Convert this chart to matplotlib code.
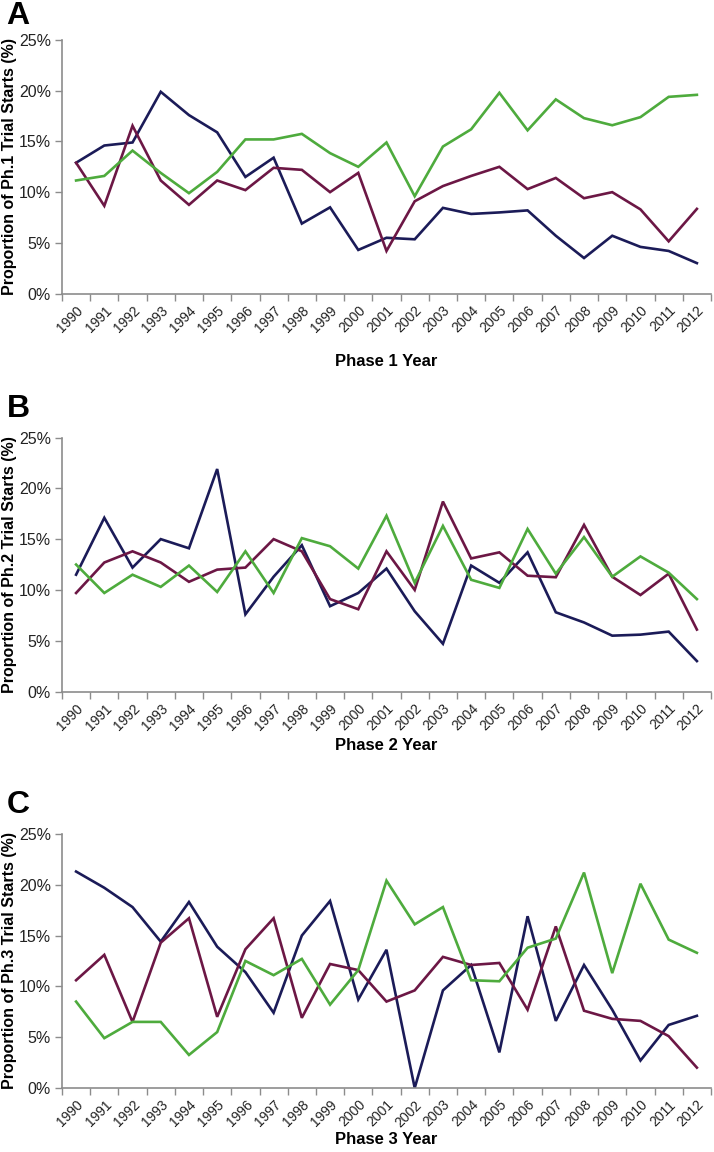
import matplotlib
matplotlib.use("Agg")
import matplotlib.pyplot as plt
import numpy as np
from matplotlib.ticker import PercentFormatter

# Years shared by all three panels
years = [str(y) for y in range(1990, 2013)]

# Phase 1 (%)
ph1_navy = [12.9, 14.6, 14.9, 19.9, 17.6, 15.9, 11.5, 13.4, 6.9, 8.5, 4.3, 5.5,
            5.35, 8.45, 7.85, 8.0, 8.2, 5.7, 3.5, 5.7, 4.6, 4.2, 3.0]
ph1_maroon = [12.9, 8.65, 16.55, 11.15, 8.75, 11.15, 10.2, 12.4, 12.2, 10.0, 11.9, 4.2,
              9.1, 10.6, 11.6, 12.5, 10.3, 11.4, 9.4, 10.0, 8.3, 5.15, 8.35]
ph1_green = [11.15, 11.6, 14.1, 11.9, 9.9, 12.0, 15.2, 15.2, 15.75, 13.85, 12.5, 14.9,
             9.6, 14.5, 16.2, 19.8, 16.1, 19.15, 17.3, 16.6, 17.4, 19.4, 19.6]

# Phase 2 (%)
ph2_navy = [11.5, 17.1, 12.2, 15.0, 14.1, 21.9, 7.6, 11.3, 14.4, 8.4, 9.7, 12.1,
            7.9, 4.7, 12.4, 10.7, 13.7, 7.8, 6.8, 5.5, 5.6, 5.9, 3.0]
ph2_maroon = [9.7, 12.7, 13.8, 12.7, 10.8, 12.0, 12.2, 15.0, 13.8, 9.1, 8.1, 13.8,
              10.0, 18.7, 13.1, 13.7, 11.4, 11.25, 16.4, 11.3, 9.5, 11.6, 6.1]
ph2_green = [12.5, 9.7, 11.5, 10.3, 12.4, 9.8, 13.8, 9.7, 15.1, 14.3, 12.1, 17.3,
             10.7, 16.3, 11.0, 10.2, 16.0, 11.6, 15.2, 11.3, 13.3, 11.7, 9.1]

# Phase 3 (%)
ph3_navy = [21.3, 19.7, 17.8, 14.4, 18.3, 13.9, 11.4, 7.4, 15.0, 18.4, 8.7, 13.6,
            0.0, 9.6, 12.1, 3.5, 16.9, 6.6, 12.1, 7.7, 2.7, 6.2, 7.1]
ph3_maroon = [10.6, 13.1, 6.5, 14.3, 16.7, 7.0, 13.65, 16.7, 6.9, 12.2, 11.6, 8.5,
              9.6, 12.9, 12.1, 12.3, 7.7, 15.9, 7.6, 6.8, 6.6, 5.1, 2.0]
ph3_green = [8.5, 4.9, 6.5, 6.5, 3.25, 5.5, 12.5, 11.1, 12.7, 8.2, 11.6, 20.4,
             16.1, 17.8, 10.6, 10.5, 13.8, 14.7, 21.2, 11.3, 20.1, 14.6, 13.3]

panel_letters = ["A", "B", "C"]
ylabels = ["Proportion of Ph.1 Trial Starts (%)",
           "Proportion of Ph.2 Trial Starts (%)",
           "Proportion of Ph.3 Trial Starts (%)"]
xlabels = ["Phase 1 Year", "Phase 2 Year", "Phase 3 Year"]

NAVY = "#1b1b58"
MAROON = "#6c1745"
GREEN = "#4eab3d"
AXIS_GREY = "#8c8c8c"

plt.rcParams["font.family"] = ["Liberation Sans", "DejaVu Sans"]
NARROW = ["Liberation Sans Narrow", "Liberation Sans", "DejaVu Sans"]

fig = plt.figure(figsize=(7.14, 11.52), dpi=100)

# axes rectangles [left, bottom, width, height] in figure fractions
rects = [[0.0868, 0.7452, 0.909, 0.2200],
         [0.0868, 0.3997, 0.909, 0.2205],
         [0.0868, 0.0556, 0.909, 0.2205]]
letter_y = [0.999, 0.658, 0.3145]
xlabel_y = [-0.270, -0.212, -0.203]

panels = [(ph1_navy, ph1_maroon, ph1_green),
          (ph2_navy, ph2_maroon, ph2_green),
          (ph3_navy, ph3_maroon, ph3_green)]

x = np.arange(len(years))

for i, (navy, maroon, green) in enumerate(panels):
    ax = fig.add_axes(rects[i])
    ax.plot(x, navy, color=NAVY, lw=1.9, solid_joinstyle="miter")
    ax.plot(x, maroon, color=MAROON, lw=1.9, solid_joinstyle="miter")
    ax.plot(x, green, color=GREEN, lw=1.9, solid_joinstyle="miter")

    ax.set_xlim(-0.5, len(years) - 0.5)
    ax.set_ylim(0, 25)
    ax.set_yticks(np.arange(0, 26, 5))
    ax.yaxis.set_major_formatter(PercentFormatter(decimals=0))

    # labels at category centres, ticks at category boundaries (Excel style)
    ax.set_xticks(x)
    ax.set_xticklabels(years, rotation=45, ha="right", rotation_mode="anchor",
                       family=NARROW, fontsize=10, color="#222222")
    ax.set_xticks(np.arange(-0.5, len(years)), minor=True)
    ax.tick_params(axis="x", which="major", length=0, pad=7)
    ax.tick_params(axis="x", which="minor", length=5, color=AXIS_GREY, width=1)
    ax.tick_params(axis="y", length=5, color=AXIS_GREY, width=1,
                   labelsize=11.5, labelcolor="#222222", pad=3)

    for side in ["top", "right"]:
        ax.spines[side].set_visible(False)
    for side in ["left", "bottom"]:
        ax.spines[side].set_color(AXIS_GREY)
        ax.spines[side].set_linewidth(1.2)

    ax.set_ylabel(ylabels[i], fontsize=11.5, fontweight="bold")
    ax.yaxis.set_label_coords(-0.081, 0.5)
    ax.yaxis.label.set_va("center")

    ax.set_xlabel(xlabels[i], fontsize=12, fontweight="bold", family=NARROW)
    ax.xaxis.set_label_coords(0.5, xlabel_y[i])
    ax.xaxis.label.set_va("center")

    fig.text(0.009, letter_y[i], panel_letters[i], fontsize=23,
             fontweight="bold", va="top", ha="left")

fig.savefig("out.png", dpi=100)
